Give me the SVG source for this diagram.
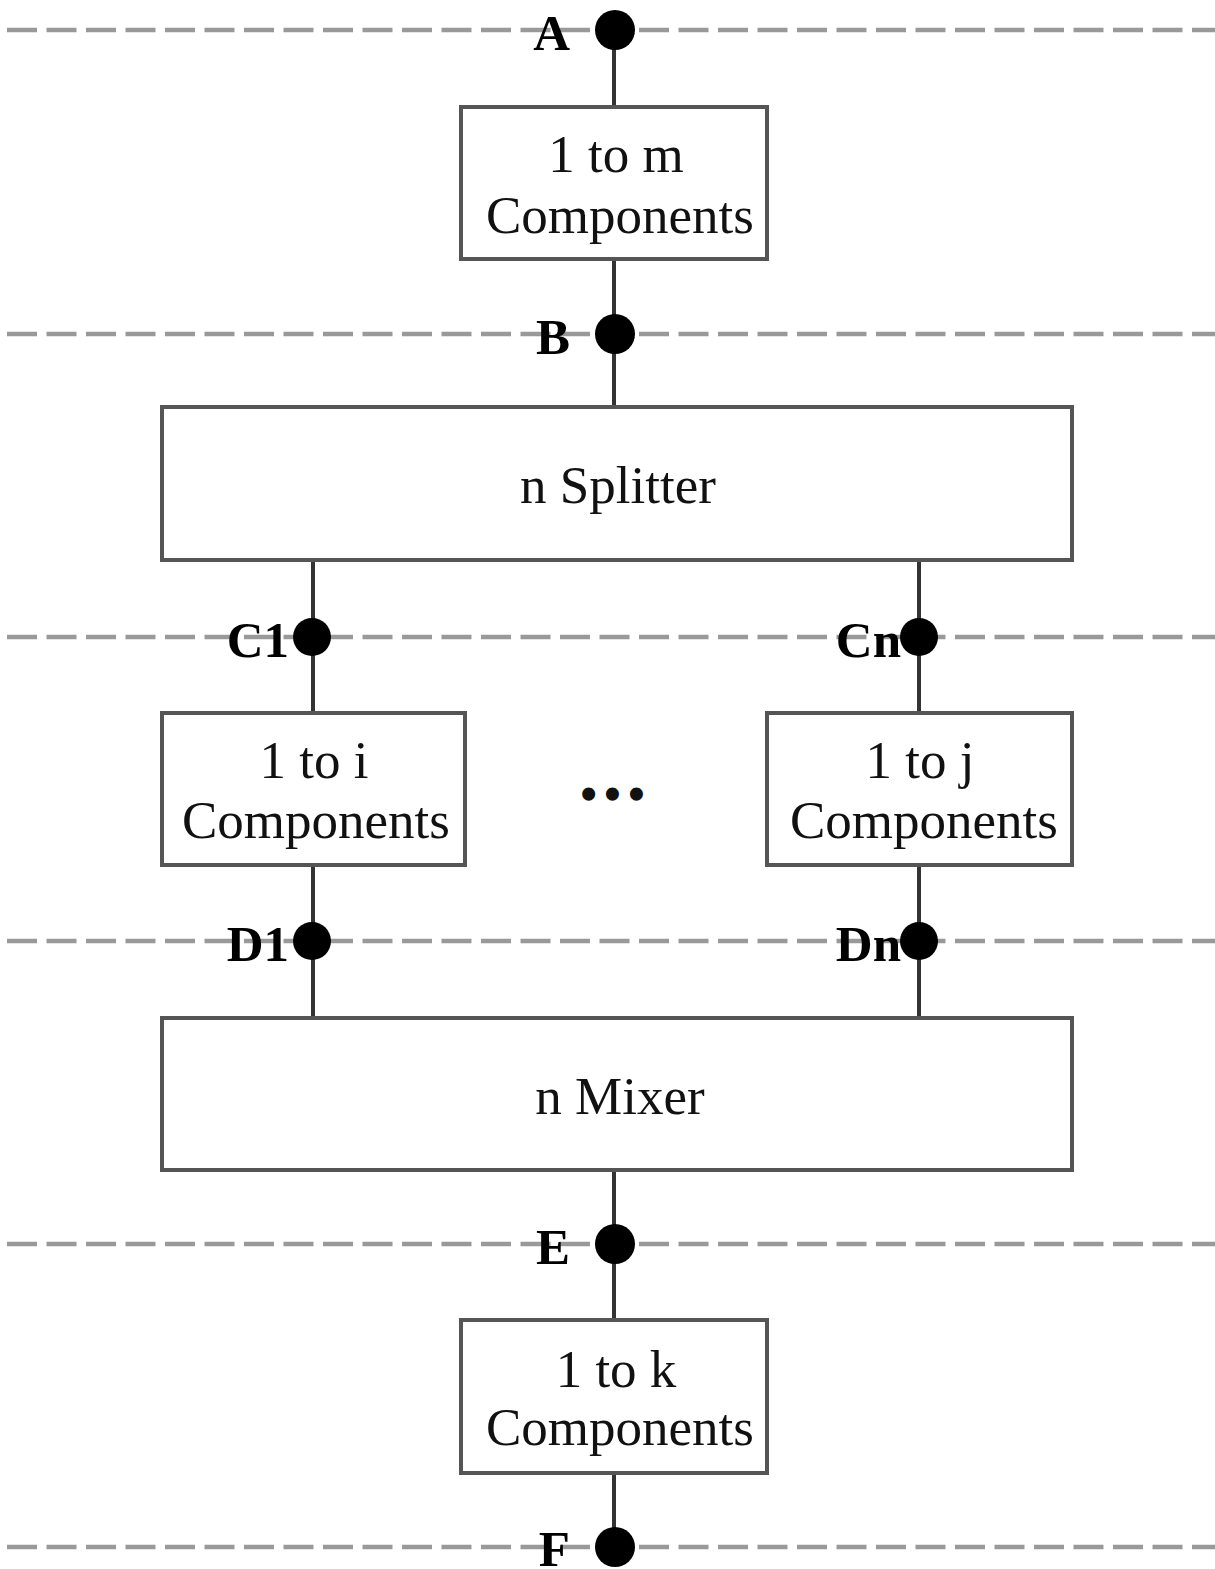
<svg xmlns="http://www.w3.org/2000/svg" width="1215" height="1569" viewBox="0 0 1215 1569">
<style>
.dash{stroke:#999;stroke-width:4.5;stroke-dasharray:30 9.5;fill:none}
.box{fill:#fff;stroke:#555;stroke-width:4}
.wire{stroke:#333;stroke-width:4;fill:none}
.dot{fill:#000}
.t{font-family:"Liberation Serif",serif;font-size:53px;fill:#111;text-anchor:middle}
.lbl{font-family:"Liberation Serif",serif;font-size:51px;font-weight:bold;fill:#000;text-anchor:end}
</style>
<rect width="1215" height="1569" fill="#fff"/>
<g id="levels">
<line class="dash" x1="7" y1="30" x2="1215" y2="30"/>
<line class="dash" x1="7" y1="334" x2="1215" y2="334"/>
<line class="dash" x1="7" y1="637" x2="1215" y2="637"/>
<line class="dash" x1="7" y1="941" x2="1215" y2="941"/>
<line class="dash" x1="7" y1="1244" x2="1215" y2="1244"/>
<line class="dash" x1="7" y1="1547" x2="1215" y2="1547"/>
</g>
<g id="connectors">
<line class="wire" x1="614" y1="30" x2="614" y2="107"/>
<line class="wire" x1="614" y1="259" x2="614" y2="407"/>
<line class="wire" x1="313" y1="560" x2="313" y2="713"/>
<line class="wire" x1="919" y1="560" x2="919" y2="713"/>
<line class="wire" x1="313" y1="865" x2="313" y2="1018"/>
<line class="wire" x1="919" y1="865" x2="919" y2="1018"/>
<line class="wire" x1="614" y1="1170" x2="614" y2="1320"/>
<line class="wire" x1="614" y1="1473" x2="614" y2="1547"/>
</g>
<g id="box-m"><rect class="box" x="461" y="107" width="306" height="152"/><text class="t" x="616" y="172">1 to m</text><text class="t" x="620" y="233">Components</text></g>
<g id="splitter"><rect class="box" x="162" y="407" width="910" height="153"/><text class="t" x="618" y="503">n Splitter</text></g>
<g id="box-i"><rect class="box" x="162" y="713" width="303" height="152"/><text class="t" x="314" y="778">1 to i</text><text class="t" x="316" y="838">Components</text></g>
<g id="box-j"><rect class="box" x="767" y="713" width="305" height="152"/><text class="t" x="920" y="778">1 to j</text><text class="t" x="924" y="838">Components</text></g>
<g id="ellipsis"><text class="t" x="616" y="810" letter-spacing="7" style="font-weight:bold;font-size:48px">•••</text></g>
<g id="mixer"><rect class="box" x="162" y="1018" width="910" height="152"/><text class="t" x="620" y="1114">n Mixer</text></g>
<g id="box-k"><rect class="box" x="461" y="1320" width="306" height="153"/><text class="t" x="616" y="1387">1 to k</text><text class="t" x="620" y="1445">Components</text></g>
<g id="point-A"><circle class="dot" cx="615" cy="30" r="20"/><text class="lbl" x="570" y="50">A</text></g>
<g id="point-B"><circle class="dot" cx="615" cy="334" r="20"/><text class="lbl" x="570" y="354">B</text></g>
<g id="point-C1"><circle class="dot" cx="312" cy="637" r="19"/><text class="lbl" x="289" y="657">C1</text></g>
<g id="point-Cn"><circle class="dot" cx="919" cy="637" r="19"/><text class="lbl" x="901" y="657">Cn</text></g>
<g id="point-D1"><circle class="dot" cx="312" cy="941" r="19"/><text class="lbl" x="289" y="961">D1</text></g>
<g id="point-Dn"><circle class="dot" cx="919" cy="941" r="19"/><text class="lbl" x="901" y="961">Dn</text></g>
<g id="point-E"><circle class="dot" cx="615" cy="1244" r="20"/><text class="lbl" x="570" y="1264">E</text></g>
<g id="point-F"><circle class="dot" cx="615" cy="1547" r="20"/><text class="lbl" x="570" y="1566">F</text></g>
</svg>
